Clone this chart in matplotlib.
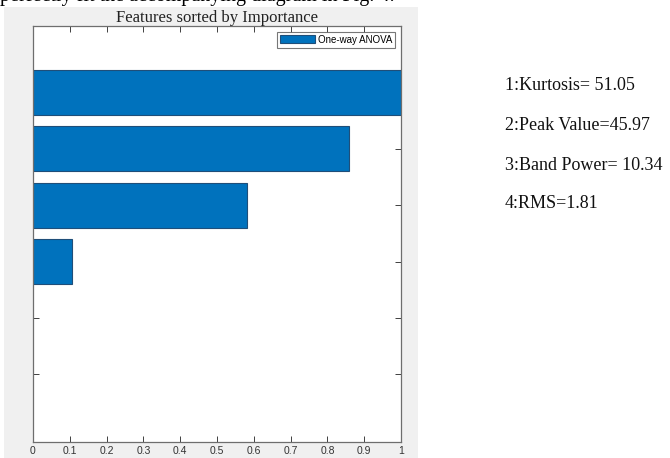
import matplotlib
matplotlib.use("Agg")
import matplotlib.pyplot as plt
from matplotlib.patches import Rectangle

features = ["Kurtosis", "Peak Value", "Band Power", "RMS"]
scores = [51.05, 45.97, 10.34, 1.81]
importance = [1.0, 0.86, 0.582, 0.105]
positions = [1, 2, 3, 4]
yticks = [1, 2, 3, 4, 5, 6]
xticks = [0, 0.1, 0.2, 0.3, 0.4, 0.5, 0.6, 0.7, 0.8, 0.9, 1]
xticklabels = ["0", "0.1", "0.2", "0.3", "0.4", "0.5", "0.6", "0.7", "0.8", "0.9", "1"]
annot = ["1:Kurtosis= 51.05", "2:Peak Value=45.97", "3:Band Power= 10.34", "4:RMS=1.81"]

W, H = 670, 458
fig = plt.figure(figsize=(W / 100, H / 100), dpi=100)
fig.patch.set_facecolor("white")

# gray MATLAB figure panel
fig.patches.append(Rectangle((4 / W, 0), (418 - 4) / W, (H - 7) / H,
                             transform=fig.transFigure, facecolor="#F0F0F0",
                             edgecolor="none", zorder=-5))

# clipped text line from the page above
fig.text(0.0, 1 - 0.5 / H, "perfectly fit the accompanying diagram in Fig. 4.",
         family="Liberation Serif", fontsize=14.5, va="baseline", ha="left",
         color="black")

ax = fig.add_axes([33 / W, (H - 442) / H, (401 - 33) / W, (442 - 26) / H])
ax.set_zorder(2)
ax.set_facecolor("white")
ax.barh(positions, importance, height=0.8, color="#0072BD", edgecolor="#1F4E79",
        linewidth=0.8, label="One-way ANOVA", zorder=2)
ax.set_xlim(0, 1)
ax.set_ylim(7.2, -0.18)
ax.set_xticks(xticks)
ax.set_xticklabels(xticklabels)
ax.set_yticks(yticks)
ax.set_yticklabels([])
ax.tick_params(axis="both", direction="in", length=4, width=0.7, color="#404040",
               top=True, right=True, labelsize=7.5, labelcolor="#333333", pad=3)
for s in ax.spines.values():
    s.set_color("#6E6E6E")
    s.set_linewidth(0.9)
for lab in ax.get_xticklabels():
    lab.set_family("Liberation Sans")

ax.set_title("Features sorted by Importance", family="Liberation Serif",
             fontsize=12, color="#222222", pad=3)

leg = ax.legend(loc="upper right", prop={"family": "Liberation Sans", "size": 7},
                frameon=True, fancybox=False, edgecolor="#555555",
                handlelength=3.6, handleheight=0.9, borderpad=0.3,
                handletextpad=0.3, borderaxespad=0.6)
leg.get_frame().set_linewidth(0.8)

ys = [86, 125, 165, 204]
for t, y in zip(annot, ys):
    fig.text(505 / W, 1 - y / H, t, family="Liberation Serif", fontsize=13,
             va="center", ha="left", color="#111111")

fig.savefig("out.png", dpi=100)
